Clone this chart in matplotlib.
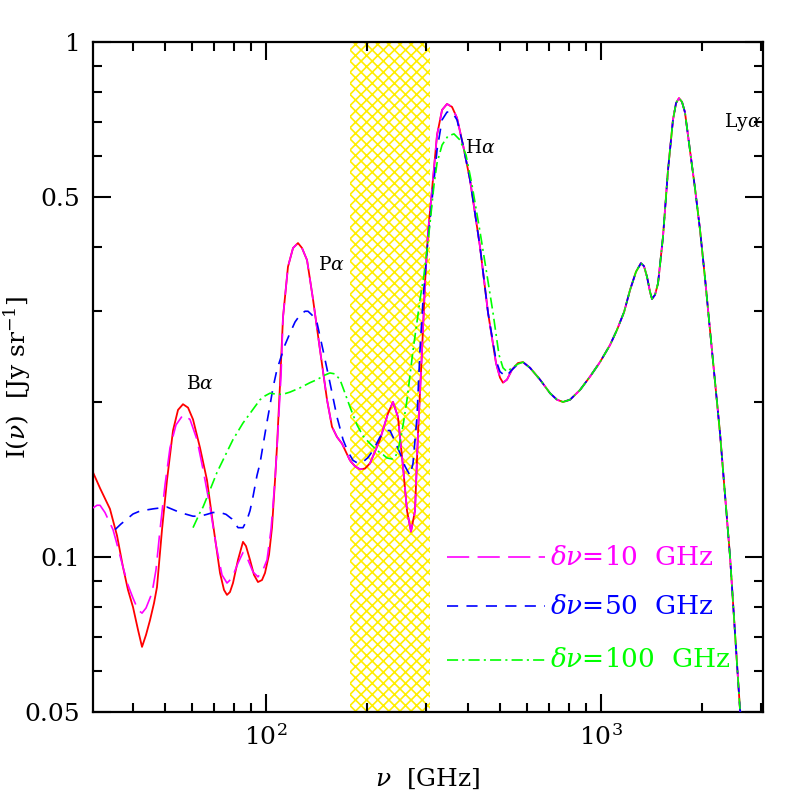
import matplotlib
matplotlib.use('Agg')
import matplotlib.pyplot as plt
from matplotlib.ticker import FixedLocator, FixedFormatter, LogLocator, NullFormatter

# Spectrum (frequency in GHz, intensity in Jy/sr).
# Unsmoothed spectrum, low-frequency part
red_low_nu = [30.45, 31.96, 34.21, 35.92, 37.42, 38.73, 40.09, 41.49, 42.65, 43.84,
              45.06, 46.32, 47.27, 48.93, 50.64, 52.77, 54.62, 56.52, 58.51, 60.55,
              63.53, 66.66, 69.46, 72.90, 74.93, 76.48, 78.07, 79.70, 82.49, 85.37,
              87.15, 89.60, 92.08, 94.64, 97.28, 99.31, 102.1, 104.2, 106.4, 107.8,
              110.1]
red_low_I = [0.146, 0.136, 0.124, 0.110, 0.0956, 0.0863, 0.0799, 0.0722, 0.0669, 0.0706,
             0.0754, 0.0814, 0.0874, 0.113, 0.141, 0.176, 0.193, 0.198, 0.195, 0.185,
             0.163, 0.141, 0.116, 0.0931, 0.0863, 0.0844, 0.0855, 0.0890, 0.0987, 0.107,
             0.105, 0.0987, 0.0923, 0.0894, 0.0902, 0.0931, 0.101, 0.114, 0.141, 0.163,
             0.216]

# dnu = 10 GHz, low-frequency part
mag_low_nu = [30.45, 31.29, 31.96, 33.06, 34.94, 36.16, 37.42, 38.73, 40.09, 41.49,
              42.65, 43.84, 45.67, 46.95, 48.27, 49.95, 51.70, 53.87, 56.52, 59.31,
              62.23, 64.86, 68.07, 70.93, 73.90, 76.48, 79.16, 82.49, 85.37, 88.35,
              91.46, 94.64, 97.96, 100.7, 103.5, 106.4, 108.6, 110.9]
mag_low_I = [0.1245, 0.126, 0.126, 0.122, 0.113, 0.1041, 0.0956, 0.0882, 0.0832, 0.0789,
             0.0778, 0.0796, 0.0851, 0.0944, 0.113, 0.138, 0.163, 0.1805, 0.1887, 0.185,
             0.169, 0.148, 0.125, 0.1055, 0.0923, 0.0890, 0.0910, 0.0973, 0.102, 0.0987,
             0.0935, 0.0915, 0.0944, 0.0987, 0.113, 0.141, 0.176, 0.2256]

# unsmoothed and dnu = 10 GHz coincide here (Pa ... Ha)
mid_nu = [112.4, 116.3, 120.4, 124.6, 128.1, 132.6, 138.2, 145.0, 152.1, 157.4,
          162.9, 168.6, 178.1, 184.4, 190.8, 197.5, 204.4, 218.9, 231.3, 239.4,
          247.7, 256.4, 263.6, 270.9, 278.5, 284.3, 292.3, 298.3, 304.5, 313.0,
          324.0, 335.4, 347.0, 359.2, 371.7, 387.4, 406.4, 435.4, 460.0, 486.0,
          499.4, 509.8, 524.1, 542.4, 565.2]
mid_I = [0.292, 0.366, 0.398, 0.407, 0.398, 0.377, 0.316, 0.252, 0.202, 0.179,
         0.171, 0.166, 0.154, 0.150, 0.148, 0.1485, 0.152, 0.169, 0.190, 0.200,
         0.187, 0.150, 0.123, 0.112, 0.123, 0.174, 0.252, 0.340, 0.426, 0.516,
         0.660, 0.738, 0.758, 0.748, 0.712, 0.631, 0.540, 0.400, 0.298, 0.238,
         0.223, 0.218, 0.221, 0.231, 0.238]

# dnu = 50 GHz up to 565 GHz
blue_nu = [35.43, 36.91, 38.47, 40.09, 42.07, 46.00, 50.64, 55.38, 60.55, 63.53,
           66.66, 69.46, 72.90, 75.97, 79.16, 82.49, 85.37, 87.75, 89.60, 91.46,
           94.00, 95.96, 98.63, 100.7, 102.8, 104.9, 107.8, 110.1, 113.9, 117.9,
           122.1, 126.3, 130.7, 133.5, 137.2, 142.0, 148.0, 155.2, 162.9, 169.8,
           175.7, 181.9, 188.2, 194.8, 201.6, 208.7, 218.9, 229.7, 234.5, 239.4,
           251.2, 260.0, 269.1, 274.7, 282.3, 288.2, 294.3, 302.5, 313.0, 324.0,
           335.4, 347.0, 359.2, 371.7, 387.4, 406.4, 435.4, 460.0, 486.0, 499.4,
           520.5, 542.4, 565.2]
blue_I = [0.113, 0.1159, 0.1185, 0.1212, 0.1228, 0.124, 0.125, 0.122, 0.120, 0.120,
          0.121, 0.122, 0.122, 0.121, 0.1185, 0.114, 0.114, 0.118, 0.123, 0.131,
          0.144, 0.152, 0.169, 0.183, 0.197, 0.213, 0.231, 0.241, 0.258, 0.272,
          0.286, 0.295, 0.300, 0.300, 0.295, 0.285, 0.252, 0.218, 0.187, 0.169,
          0.160, 0.154, 0.152, 0.153, 0.156, 0.161, 0.171, 0.176, 0.176, 0.171,
          0.159, 0.150, 0.144, 0.152, 0.187, 0.252, 0.316, 0.395, 0.493, 0.617,
          0.706, 0.731, 0.731, 0.706, 0.631, 0.540, 0.400, 0.298, 0.241, 0.229,
          0.224, 0.231, 0.237]

# dnu = 100 GHz up to 565 GHz
green_nu = [60.55, 63.53, 64.86, 68.07, 71.42, 76.48, 79.70, 85.37, 89.60, 95.96,
            99.31, 102.8, 107.8, 112.4, 117.9, 126.3, 135.3, 142.0, 150.0, 155.2,
            160.7, 166.3, 172.1, 178.1, 186.9, 194.8, 204.4, 214.5, 223.6, 229.7,
            237.8, 242.7, 247.7, 252.9, 258.2, 263.6, 269.1, 274.7, 282.3, 288.2,
            296.2, 302.5, 308.8, 317.3, 324.0, 335.4, 349.4, 364.1, 379.5, 395.5,
            412.0, 435.4, 456.7, 476.0, 496.0, 509.8, 524.1, 542.4, 565.2]
green_I = [0.114, 0.122, 0.125, 0.135, 0.146, 0.160, 0.169, 0.182, 0.190, 0.202,
           0.2055, 0.208, 0.207, 0.207, 0.209, 0.213, 0.218, 0.221, 0.2256, 0.2277,
           0.2267, 0.221, 0.208, 0.1956, 0.1805, 0.1718, 0.166, 0.161, 0.158, 0.1557,
           0.155, 0.156, 0.161, 0.171, 0.185, 0.202, 0.2256, 0.252, 0.286, 0.316,
           0.353, 0.395, 0.445, 0.528, 0.582, 0.631, 0.657, 0.663, 0.645, 0.603,
           0.528, 0.428, 0.353, 0.298, 0.247, 0.233, 0.229, 0.233, 0.237]

# all four spectra agree above ~585 GHz
tail_nu = [585.0, 614.0, 657.6, 704.4, 739.0, 770.2, 808.1, 865.7, 927.3, 993.1,
           1064, 1116, 1172, 1221, 1272, 1316, 1344, 1372, 1401, 1420,
           1450, 1480, 1531, 1585, 1640, 1675, 1709, 1745, 1781, 1844,
           1908, 1975, 2044, 2115, 2266, 2428, 2600, 2691]
tail_I = [0.239, 0.233, 0.221, 0.208, 0.202, 0.200, 0.202, 0.211, 0.224, 0.239,
          0.258, 0.276, 0.299, 0.330, 0.358, 0.372, 0.367, 0.350, 0.327, 0.317,
          0.323, 0.340, 0.418, 0.564, 0.706, 0.761, 0.778, 0.765, 0.730, 0.615,
          0.520, 0.432, 0.348, 0.276, 0.174, 0.100, 0.0505, 0.044]

band = (178, 309)  # masked frequency range

lines = [('Ba', 63.5, 0.217), ('Pa', 156.3, 0.369), ('Ha', 435.0, 0.622), ('Lya', 2640.0, 0.699)]
line_tex = {'Ba': r'B$\alpha$', 'Pa': r'P$\alpha$', 'Ha': r'H$\alpha$', 'Lya': r'Ly$\alpha$'}

plt.rcParams['font.family'] = ['DejaVu Serif']
plt.rcParams['mathtext.fontset'] = 'dejavuserif'
plt.rcParams['hatch.linewidth'] = 1.2
plt.rcParams['lines.scale_dashes'] = False

fig = plt.figure(figsize=(7.97, 7.97), dpi=100)
ax = fig.add_axes([93 / 797, 1 - 712 / 797, 670 / 797, 670 / 797])

ax.axvspan(band[0], band[1], facecolor='white', edgecolor='#ffee00', hatch='xxx', lw=0, zorder=0)

ax.plot(red_low_nu + mid_nu + tail_nu, red_low_I + mid_I + tail_I, color='#ff0000', lw=1.3, zorder=2)
ax.plot(mag_low_nu + mid_nu + tail_nu, mag_low_I + mid_I + tail_I, color='#ff00ff', lw=1.2,
        dashes=(16, 6), zorder=3)
ax.plot(blue_nu + tail_nu, blue_I + tail_I, color='#0000ff', lw=1.2, dashes=(8, 6), zorder=4)
ax.plot(green_nu + tail_nu, green_I + tail_I, color='#00ff00', lw=1.2,
        dashes=(8, 3, 1.5, 3), zorder=5)

for key, x, y in lines:
    ax.text(x, y, line_tex[key], fontsize=13.5, ha='center', va='center')

# hand-made legend, as in the original
legend_rows = [(r'$\delta\nu$=10  GHz', '#ff00ff', (16, 6), 0.231),
               (r'$\delta\nu$=50  GHz', '#0000ff', (8, 6), 0.158),
               (r'$\delta\nu$=100  GHz', '#00ff00', (8, 3, 1.5, 3), 0.078)]
for label, col, dash, yy in legend_rows:
    ax.plot([0.528, 0.675], [yy, yy], transform=ax.transAxes, color=col, lw=1.2, dashes=dash)
    ax.text(0.682, yy, label, transform=ax.transAxes, color=col, fontsize=19, va='center')

ax.set_xscale('log')
ax.set_yscale('log')
ax.set_xlim(30.45, 3045)
ax.set_ylim(0.05, 1)

ax.xaxis.set_major_locator(FixedLocator([100, 1000]))
ax.xaxis.set_minor_locator(LogLocator(base=10, subs=range(2, 10)))
ax.xaxis.set_minor_formatter(NullFormatter())
ax.yaxis.set_major_locator(FixedLocator([0.05, 0.1, 0.5, 1]))
ax.yaxis.set_major_formatter(FixedFormatter(['0.05', '0.1', '0.5', '1']))
ax.yaxis.set_minor_locator(FixedLocator([0.06, 0.07, 0.08, 0.09, 0.2, 0.3, 0.4, 0.6, 0.7, 0.8, 0.9]))
ax.yaxis.set_minor_formatter(NullFormatter())

ax.tick_params(which='both', direction='in', top=True, right=True, width=1.5, labelsize=18)
ax.tick_params(which='major', length=13, pad=9)
ax.tick_params(which='minor', length=6.5)
for s in ax.spines.values():
    s.set_linewidth(1.6)

ax.set_xlabel(r'$\nu$  [GHz]', fontsize=18)
ax.set_ylabel(r'I($\nu$)  [Jy sr$^{-1}$]', fontsize=18)
ax.xaxis.set_label_coords(0.5, -0.082)
ax.yaxis.set_label_coords(-0.09, 0.5)

fig.savefig('out.png', dpi=100)
